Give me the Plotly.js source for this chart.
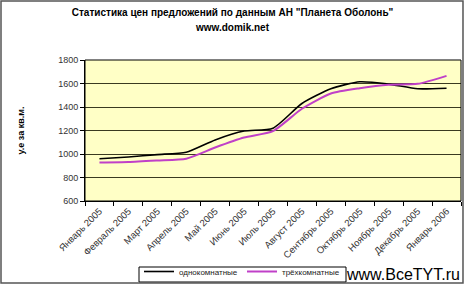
<!DOCTYPE html>
<html><head><meta charset="utf-8">
<script src="https://cdn.plot.ly/plotly-3.0.1.min.js"></script>
<style>html,body{margin:0;padding:0;background:#fff}#c{width:465px;height:286px}</style>
</head><body><div id="c"></div>
<script>
const months = ["Январь 2005","Февраль 2005","Март 2005","Апрель 2005","Май 2005","Июнь 2005","Июль 2005","Август 2005","Сентябрь 2005","Октябрь 2005","Ноябрь 2005","Декабрь 2005","Январь 2006"];
const oneRoom = [960, 975, 995, 1015, 1120, 1195, 1220, 1430, 1555, 1615, 1595, 1555, 1560];
const threeRoom = [928, 932, 945, 960, 1055, 1140, 1195, 1385, 1515, 1560, 1590, 1597, 1665];
const seriesNames = ["однокомнатные", "трёхкомнатные"];

const traces = [
  {x: months, y: oneRoom, name: seriesNames[0], type: "scatter", mode: "lines",
   line: {color: "#000000", width: 1.6, shape: "spline", smoothing: 0.6}},
  {x: months, y: threeRoom, name: seriesNames[1], type: "scatter", mode: "lines",
   line: {color: "#C040C8", width: 2, shape: "spline", smoothing: 0.6}}
];

const layout = {
  width: 465, height: 286,
  margin: {l: 85, r: 4, t: 60, b: 85, autoexpand: false},
  paper_bgcolor: "#ffffff",
  plot_bgcolor: "#FFFFC6",
  font: {family: "Arial, Liberation Sans, sans-serif", size: 9, color: "#222"},
  title: {text: "<b>Статистика цен предложений по данным АН \"Планета Оболонь\"</b>",
          font: {size: 10, color: "#000"}, x: 0.5, xref: "container", xanchor: "center",
          yref: "container", y: 1 - 12/286, yanchor: "middle"},
  showlegend: true,
  legend: {orientation: "h", xref: "container", x: 139/465, xanchor: "left",
           yref: "container", y: -4/286, yanchor: "bottom",
           bgcolor: "rgba(0,0,0,0)", borderwidth: 0,
           font: {size: 8, color: "#222"}, itemwidth: 30, entrywidth: 58, entrywidthmode: "pixels", tracegroupgap: 0},
  xaxis: {type: "category", tickangle: -45, tickson: "boundaries", ticks: "outside", ticklen: 4,
          tickcolor: "#000", showline: true, linecolor: "#000", linewidth: 1, showgrid: false,
          tickfont: {size: 9.5, color: "#333"}, range: [-0.5, 12.5], automargin: false},
  yaxis: {range: [600, 1800], dtick: 200, ticks: "outside", ticklen: 4, tickcolor: "#000",
          showline: true, linecolor: "#000", linewidth: 1, showgrid: true, gridcolor: "#3a3a20", gridwidth: 1,
          zeroline: false, tickfont: {size: 9, color: "#333"},
          title: {text: "<b>у.е за кв.м.</b>", font: {size: 9, color: "#000"}, standoff: 32}, automargin: false},
  shapes: [
    {type: "rect", xref: "paper", yref: "paper", x0: 1, x1: 0, y0: 1, y1: 0, line: {color: "#000", width: 1}, fillcolor: "rgba(0,0,0,0)", layer: "above"},
    {type: "rect", xref: "paper", yref: "paper", x0: -0.2234, x1: 1.0053, y0: 1.418, y1: -0.5816, line: {color: "#555", width: 1.5}, fillcolor: "rgba(0,0,0,0)"},
    {type: "rect", xref: "paper", yref: "paper", x0: (139-85)/376, x1: (346-85)/376, y0: (201-267)/141, y1: (201-282)/141, line: {color: "#000", width: 1}, fillcolor: "#ffffff", layer: "below"}
  ],
  annotations: [
    {text: "<b>www.domik.net</b>", xref: "paper", yref: "paper", x: (232.5-85)/376, xanchor: "center", y: (201-28)/141, yanchor: "middle",
     showarrow: false, font: {size: 10, color: "#000"}},
    {text: "www.BceTYT.ru", xref: "paper", yref: "paper", x: 1.003, xanchor: "right", y: -0.52, yanchor: "middle",
     showarrow: false, font: {size: 16, color: "#000", family: "Arial, Liberation Sans, sans-serif"}}
  ]
};
Plotly.newPlot("c", traces, layout, {displayModeBar: false, staticPlot: true});
</script></body></html>
